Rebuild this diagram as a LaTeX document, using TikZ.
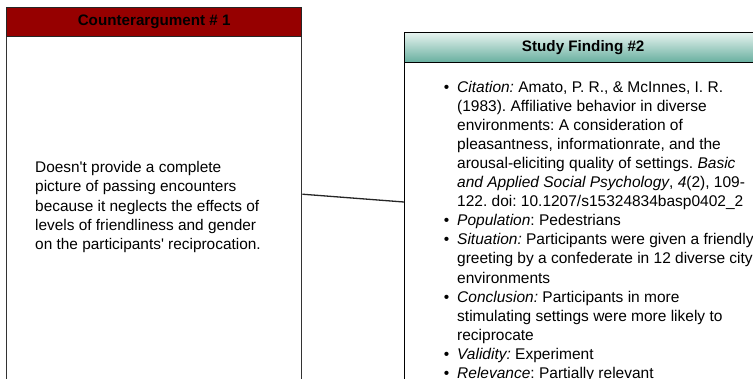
\documentclass[tikz,border=0pt]{standalone}
\usepackage{fontspec}
\setmainfont{Liberation Sans}
\frenchspacing
\definecolor{hdred}{HTML}{960000}
\definecolor{tealtop}{HTML}{E6F3EF}
\definecolor{tealbot}{HTML}{66AE9E}
\begin{document}
\begin{tikzpicture}[x=1pt,y=-1pt,
  box/.style={draw=black!80, line width=1.4pt, fill=white, anchor=north west, inner sep=0pt},
  hdr/.style={draw=black!85, line width=1.4pt, anchor=north west, inner sep=0pt,
    font=\fontsize{15.2}{18}\selectfont\bfseries},
  body/.style={anchor=base west, align=left, inner sep=0pt},
  link/.style={draw=black!85, line width=1.3pt}]
\useasboundingbox (0,0) rectangle (753,378);
\fill[white] (0,0) rectangle (753,378);
% left box
\node[box, minimum width=295pt, minimum height=373pt] (lbox) at (6,7) {};
\node[hdr, fill=hdred, minimum width=295pt, minimum height=29pt] (lhead) at (6,7) {Counterargument \# 1};
% anchor is the baseline of the last line
\node[body, font=\fontsize{15.4}{19.3}\selectfont\frenchspacing] (ltext) at (35,249.7)
  {Doesn\textquotesingle t provide a complete\\
   picture of passing encounters\\
   because it neglects the effects of\\
   levels of friendliness and gender\\
   on the participants\textquotesingle\ reciprocation.};
% right box
\node[box, draw=black, minimum width=357pt, minimum height=360pt] (rbox) at (404,32) {};
\node[hdr, draw=black, top color=tealtop, bottom color=tealbot, minimum width=357pt, minimum height=30pt] (rhead) at (404,32) {Study Finding \#2};
\newcommand{\bl}{\llap{\textbullet\hspace{8pt}}}
\node[body, font=\fontsize{15.5}{19.1}\selectfont\frenchspacing] (rtext) at (457,378.5)
  {\bl\textit{Citation:} Amato, P. R., \& McInnes, I. R.\\
   (1983). Affiliative behavior in diverse\\
   environments: A consideration of\\
   pleasantness, informationrate, and the\\
   arousal-eliciting quality of settings. \textit{Basic}\\
   \textit{and Applied Social Psychology}, \textit{4}(2), 109-\\
   122. doi: 10.1207/s15324834basp0402\_2\\
   \bl\textit{Population}: Pedestrians\\
   \bl\textit{Situation:} Participants were given a friendly\\
   greeting by a confederate in 12 diverse city\\
   environments\\
   \bl\textit{Conclusion:} Participants in more\\
   stimulating settings were more likely to\\
   reciprocate\\
   \bl\textit{Validity:} Experiment\\
   \bl\textit{Relevance}: Partially relevant};
% connector
\coordinate (rin) at ([yshift=-170pt]rbox.north west);
\draw[link] (lbox.east) -- (rin);
\end{tikzpicture}
\end{document}
